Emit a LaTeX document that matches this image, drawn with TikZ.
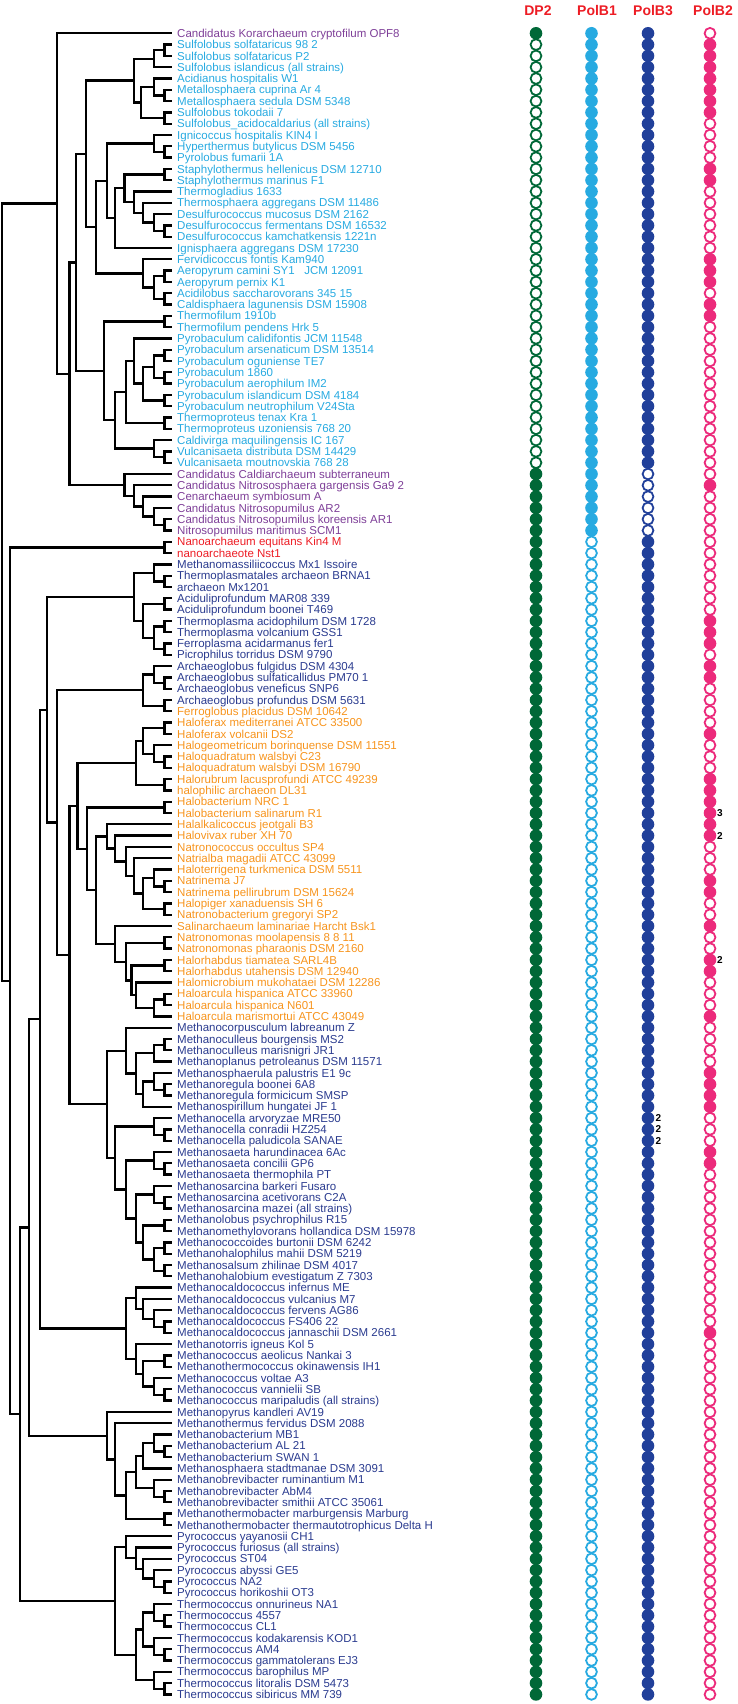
\documentclass[tikz,border=0pt]{standalone}
\usepackage{fontspec}
\setmainfont{Liberation Sans}
\usetikzlibrary{calc}

\definecolor{pu}{HTML}{7E3F98}
\definecolor{lb}{HTML}{27AAE1}
\definecolor{rd}{HTML}{ED1C24}
\definecolor{db}{HTML}{2A3B8F}
\definecolor{og}{HTML}{F7941D}
\definecolor{cDP}{HTML}{006837}
\definecolor{cBa}{HTML}{27AAE1}
\definecolor{cBc}{HTML}{21409A}
\definecolor{cBb}{HTML}{EC2A7B}

\tikzset{
  branch/.style={line width=2.3, black},
  lbl/.style={anchor=west, inner xsep=5.5, inner ysep=0, text height=8.3, text depth=0,
    font=\fontsize{11.5}{12}\selectfont},
  hdr/.style={text=rd, font=\fontsize{14}{14}\selectfont\bfseries},
  num/.style={anchor=west, inner sep=0, text height=7, text depth=0,
    font=\fontsize{10}{10}\selectfont\bfseries},
  dp1/.style={fill=cDP, radius=6.3pt}, dp0/.style={draw=cDP, fill=white, line width=1.8, radius=5.4pt},
  ba1/.style={fill=cBa, radius=6.3pt}, ba0/.style={draw=cBa, fill=white, line width=1.8, radius=5.4pt},
  bc1/.style={fill=cBc, radius=6.3pt}, bc0/.style={draw=cBc, fill=white, line width=1.8, radius=5.4pt},
  bb1/.style={fill=cBb, radius=6.3pt}, bb0/.style={draw=cBb, fill=white, line width=1.8, radius=5.4pt}
}

% nhanh cay: ten, x, con tren, con duoi
\newcommand{\clade}[4]{%
  \coordinate (#1x) at (#2,0);
  \path ($(#3)!.5!(#4)$) coordinate (#1m);
  \coordinate (#1) at (#1m -| #1x);
  \draw[branch] (#3) -| (#1) |- (#4);
}

\begin{document}
\begin{tikzpicture}[x=1pt, y=-1pt]

            \useasboundingbox (0,0) rectangle (737,1704);

            % Ghi chú tên loài và các vòng tròn
            \foreach \cl/\tx/\fa/\fb/\fc/\fd [count=\i] in {
              pu/Candidatus Korarchaeum cryptofilum OPF8/1/1/1/0,
              lb/Sulfolobus solfataricus 98 2/0/1/1/1,
              lb/Sulfolobus solfataricus P2/0/1/1/1,
              lb/Sulfolobus islandicus (all strains)/0/1/1/1,
              lb/Acidianus hospitalis W1/0/1/1/1,
              lb/Metallosphaera cuprina Ar 4/0/1/1/1,
              lb/Metallosphaera sedula DSM 5348/0/1/1/1,
              lb/Sulfolobus tokodaii 7/0/1/1/1,
              lb/Sulfolobus\_acidocaldarius (all strains)/0/1/1/0,
              lb/Ignicoccus hospitalis KIN4 I/0/1/1/0,
              lb/Hyperthermus butylicus DSM 5456/0/1/1/0,
              lb/Pyrolobus fumarii 1A/0/1/1/0,
              lb/Staphylothermus hellenicus DSM 12710/0/1/1/1,
              lb/Staphylothermus marinus F1/0/1/1/1,
              lb/Thermogladius 1633/0/1/1/0,
              lb/Thermosphaera aggregans DSM 11486/0/1/1/0,
              lb/Desulfurococcus mucosus DSM 2162/0/1/1/0,
              lb/Desulfurococcus fermentans DSM 16532/0/1/1/0,
              lb/Desulfurococcus kamchatkensis 1221n/0/1/1/0,
              lb/Ignisphaera aggregans DSM 17230/0/1/1/0,
              lb/Fervidicoccus fontis Kam940/0/1/1/1,
              lb/Aeropyrum camini SY1~~~JCM 12091/0/1/1/1,
              lb/Aeropyrum pernix K1/0/1/1/1,
              lb/Acidilobus saccharovorans 345 15/0/1/1/0,
              lb/Caldisphaera lagunensis DSM 15908/0/1/1/1,
              lb/Thermofilum 1910b/0/1/1/1,
              lb/Thermofilum pendens Hrk 5/0/1/1/0,
              lb/Pyrobaculum calidifontis JCM 11548/0/1/1/0,
              lb/Pyrobaculum arsenaticum DSM 13514/0/1/1/0,
              lb/Pyrobaculum oguniense TE7/0/1/1/0,
              lb/Pyrobaculum 1860/0/1/1/0,
              lb/Pyrobaculum aerophilum IM2/0/1/1/0,
              lb/Pyrobaculum islandicum DSM 4184/0/1/1/0,
              lb/Pyrobaculum neutrophilum V24Sta/0/1/1/0,
              lb/Thermoproteus tenax Kra 1/0/1/1/0,
              lb/Thermoproteus uzoniensis 768 20/0/1/1/0,
              lb/Caldivirga maquilingensis IC 167/0/1/1/0,
              lb/Vulcanisaeta distributa DSM 14429/0/1/1/0,
              lb/Vulcanisaeta moutnovskia 768 28/0/1/1/0,
              pu/Candidatus Caldiarchaeum subterraneum/1/1/0/0,
              pu/Candidatus Nitrososphaera gargensis Ga9 2/1/1/0/1,
              pu/Cenarchaeum symbiosum A/1/1/0/0,
              pu/Candidatus Nitrosopumilus AR2/1/1/0/0,
              pu/Candidatus Nitrosopumilus koreensis AR1/1/1/0/0,
              pu/Nitrosopumilus maritimus SCM1/1/1/0/0,
              rd/Nanoarchaeum equitans Kin4 M/1/0/1/0,
              rd/nanoarchaeote Nst1/1/0/1/0,
              db/Methanomassiliicoccus Mx1 Issoire/1/0/1/0,
              db/Thermoplasmatales archaeon BRNA1/1/0/1/0,
              db/archaeon Mx1201/1/0/1/0,
              db/Aciduliprofundum MAR08 339/1/0/1/0,
              db/Aciduliprofundum boonei T469/1/0/1/0,
              db/Thermoplasma acidophilum DSM 1728/1/0/1/1,
              db/Thermoplasma volcanium GSS1/1/0/1/1,
              db/Ferroplasma acidarmanus fer1/1/0/1/1,
              db/Picrophilus torridus DSM 9790/1/0/1/0,
              db/Archaeoglobus fulgidus DSM 4304/1/0/1/1,
              db/Archaeoglobus sulfaticallidus PM70 1/1/0/1/1,
              db/Archaeoglobus veneficus SNP6/1/0/1/0,
              db/Archaeoglobus profundus DSM 5631/1/0/1/0,
              og/Ferroglobus placidus DSM 10642/1/0/1/0,
              og/Haloferax mediterranei ATCC 33500/1/0/1/0,
              og/Haloferax volcanii DS2/1/0/1/1,
              og/Halogeometricum borinquense DSM 11551/1/0/1/0,
              og/Haloquadratum walsbyi C23/1/0/1/0,
              og/Haloquadratum walsbyi DSM 16790/1/0/1/0,
              og/Halorubrum lacusprofundi ATCC 49239/1/0/1/1,
              og/halophilic archaeon DL31/1/0/1/1,
              og/Halobacterium NRC 1/1/0/1/1,
              og/Halobacterium salinarum R1/1/0/1/1,
              og/Halalkalicoccus jeotgali B3/1/0/1/1,
              og/Halovivax ruber XH 70/1/0/1/1,
              og/Natronococcus occultus SP4/1/0/1/0,
              og/Natrialba magadii ATCC 43099/1/0/1/0,
              og/Haloterrigena turkmenica DSM 5511/1/0/1/0,
              og/Natrinema J7/1/0/1/1,
              og/Natrinema pellirubrum DSM 15624/1/0/1/1,
              og/Halopiger xanaduensis SH 6/1/0/1/0,
              og/Natronobacterium gregoryi SP2/1/0/1/0,
              og/Salinarchaeum laminariae Harcht Bsk1/1/0/1/1,
              og/Natronomonas moolapensis 8 8 11/1/0/1/0,
              og/Natronomonas pharaonis DSM 2160/1/0/1/0,
              og/Halorhabdus tiamatea SARL4B/1/0/1/1,
              og/Halorhabdus utahensis DSM 12940/1/0/1/1,
              og/Halomicrobium mukohataei DSM 12286/1/0/1/0,
              og/Haloarcula hispanica ATCC 33960/1/0/1/0,
              og/Haloarcula hispanica N601/1/0/1/0,
              og/Haloarcula marismortui ATCC 43049/1/0/1/1,
              db/Methanocorpusculum labreanum Z/1/0/1/0,
              db/Methanoculleus bourgensis MS2/1/0/1/0,
              db/Methanoculleus marisnigri JR1/1/0/1/0,
              db/Methanoplanus petroleanus DSM 11571/1/0/1/0,
              db/Methanosphaerula palustris E1 9c/1/0/1/1,
              db/Methanoregula boonei 6A8/1/0/1/1,
              db/Methanoregula formicicum SMSP/1/0/1/1,
              db/Methanospirillum hungatei JF 1/1/0/1/1,
              db/Methanocella arvoryzae MRE50/1/0/1/0,
              db/Methanocella conradii HZ254/1/0/1/0,
              db/Methanocella paludicola SANAE/1/0/1/0,
              db/Methanosaeta harundinacea 6Ac/1/0/1/1,
              db/Methanosaeta concilii GP6/1/0/1/1,
              db/Methanosaeta thermophila PT/1/0/1/0,
              db/Methanosarcina barkeri Fusaro/1/0/1/0,
              db/Methanosarcina acetivorans C2A/1/0/1/0,
              db/Methanosarcina mazei (all strains)/1/0/1/0,
              db/Methanolobus psychrophilus R15/1/0/1/0,
              db/Methanomethylovorans hollandica DSM 15978/1/0/1/0,
              db/Methanococcoides burtonii DSM 6242/1/0/1/0,
              db/Methanohalophilus mahii DSM 5219/1/0/1/0,
              db/Methanosalsum zhilinae DSM 4017/1/0/1/0,
              db/Methanohalobium evestigatum Z 7303/1/0/1/0,
              db/Methanocaldococcus infernus ME/1/0/1/0,
              db/Methanocaldococcus vulcanius M7/1/0/1/0,
              db/Methanocaldococcus fervens AG86/1/0/1/0,
              db/Methanocaldococcus FS406 22/1/0/1/0,
              db/Methanocaldococcus jannaschii DSM 2661/1/0/1/1,
              db/Methanotorris igneus Kol 5/1/0/1/0,
              db/Methanococcus aeolicus Nankai 3/1/0/1/0,
              db/Methanothermococcus okinawensis IH1/1/0/1/0,
              db/Methanococcus voltae A3/1/0/1/0,
              db/Methanococcus vannielii SB/1/0/1/0,
              db/Methanococcus maripaludis (all strains)/1/0/1/0,
              db/Methanopyrus kandleri AV19/1/0/1/0,
              db/Methanothermus fervidus DSM 2088/1/0/1/0,
              db/Methanobacterium MB1/1/0/1/0,
              db/Methanobacterium AL 21/1/0/1/0,
              db/Methanobacterium SWAN 1/1/0/1/0,
              db/Methanosphaera stadtmanae DSM 3091/1/0/1/0,
              db/Methanobrevibacter ruminantium M1/1/0/1/0,
              db/Methanobrevibacter AbM4/1/0/1/0,
              db/Methanobrevibacter smithii ATCC 35061/1/0/1/0,
              db/Methanothermobacter marburgensis Marburg/1/0/1/0,
              db/Methanothermobacter thermautotrophicus Delta H/1/0/1/0,
              db/Pyrococcus yayanosii CH1/1/0/1/0,
              db/Pyrococcus furiosus (all strains)/1/0/1/0,
              db/Pyrococcus ST04/1/0/1/0,
              db/Pyrococcus abyssi GE5/1/0/1/0,
              db/Pyrococcus NA2/1/0/1/0,
              db/Pyrococcus horikoshii OT3/1/0/1/0,
              db/Thermococcus onnurineus NA1/1/0/1/0,
              db/Thermococcus 4557/1/0/1/0,
              db/Thermococcus CL1/1/0/1/0,
              db/Thermococcus kodakarensis KOD1/1/0/1/0,
              db/Thermococcus AM4/1/0/1/0,
              db/Thermococcus gammatolerans EJ3/1/0/1/0,
              db/Thermococcus barophilus MP/1/0/1/0,
              db/Thermococcus litoralis DSM 5473/1/0/1/0,
              db/Thermococcus sibiricus MM 739/1/0/1/0}{
              \pgfmathsetmacro\yy{22+11.3*\i}
              \node[lbl, text=\cl] (L\i) at (171.5,\yy) {\tx};
              \path[dp\fa] (536,\yy) circle;
              \path[ba\fb] (591.5,\yy) circle;
              \path[bc\fc] (648,\yy) circle;
              \path[bb\fd] (710,\yy) circle;
            }

            % Tiêu đề các cột
            \node[hdr] (hDP) at (538,10.5) {DP2};
            \node[hdr] (hBa) at (597,10.5) {PolB1};
            \node[hdr] (hBc) at (653,10.5) {PolB3};
            \node[hdr] (hBb) at (713,10.5) {PolB2};

            % Số bản sao
            \node[num] (k70) at (717,{22+11.3*70}) {3};
            \node[num] (k72) at (717,{22+11.3*72}) {2};
            \node[num] (k83) at (717,{22+11.3*83}) {2};
            \node[num] (k97) at (655.5,{22+11.3*97}) {2};
            \node[num] (k98) at (655.5,{22+11.3*98}) {2};
            \node[num] (k99) at (655.5,{22+11.3*99}) {2};

            % Vẽ cây: Crenarchaeota
            \clade{s23}{164.5}{L2}{L3}
            \clade{s24}{154.1}{s23}{L4}
            \clade{s67}{164.5}{L6}{L7}
            \clade{s57}{154.1}{L5}{s67}
            \clade{s89}{164.5}{L8}{L9}
            \clade{s59}{141}{s57}{s89}
            \clade{sulf}{133.9}{s24}{s59}
            \clade{d1112}{164.5}{L11}{L12}
            \clade{d1012}{154.1}{L10}{d1112}
            \clade{d1314}{164.5}{L13}{L14}
            \clade{d1819}{164.5}{L18}{L19}
            \clade{d1719}{154.1}{L17}{d1819}
            \clade{d1619}{143.3}{L16}{d1719}
            \clade{d1519}{133.9}{L15}{d1619}
            \clade{d1319}{124.5}{d1314}{d1519}
            \clade{d1320}{115.1}{d1319}{L20}
            \clade{d1020}{107.1}{d1012}{d1320}
            \clade{d2223}{164.5}{L22}{L23}
            \clade{d2425}{164.5}{L24}{L25}
            \clade{d2225}{154.1}{d2223}{d2425}
            \clade{d2125}{143.3}{L21}{d2225}
            \clade{desulf}{96.3}{d1020}{d2125}
            \clade{sulfdes}{86}{sulf}{desulf}
            \clade{t2627}{164.5}{L26}{L27}
            \clade{t2930}{164.5}{L29}{L30}
            \clade{t3132}{164.5}{L31}{L32}
            \clade{t2932}{154.1}{t2930}{t3132}
            \clade{t3334}{164.5}{L33}{L34}
            \clade{t2934}{143.3}{t2932}{t3334}
            \clade{t2834}{133.9}{L28}{t2934}
            \clade{t3536}{164.5}{L35}{L36}
            \clade{t2836}{126}{t2834}{t3536}
            \clade{t3839}{164.5}{L38}{L39}
            \clade{t3739}{154.1}{L37}{t3839}
            \clade{t2839}{115.1}{t2836}{t3739}
            \clade{tprot}{104.3}{t2627}{t2839}
            \clade{cren}{76.1}{sulfdes}{tprot}

            % Thaumarchaeota
            \clade{a4445}{164.5}{L44}{L45}
            \clade{a4345}{154.1}{L43}{a4445}
            \clade{a4245}{143.3}{L42}{a4345}
            \clade{a4145}{133.9}{L41}{a4245}
            \clade{thaum}{124.5}{L40}{a4145}
            \clade{tack}{69.5}{cren}{thaum}
            \clade{top}{57.3}{L1}{tack}

            % Nanoarchaeota
            \clade{nano}{164.5}{L46}{L47}

            % Euryarchaeota
            \clade{p4950}{164.5}{L49}{L50}
            \clade{p4850}{154.1}{L48}{p4950}
            \clade{p5152}{164.5}{L51}{L52}
            \clade{p5354}{164.5}{L53}{L54}
            \clade{p5556}{164.5}{L55}{L56}
            \clade{p5356}{154.1}{p5354}{p5556}
            \clade{p5156}{143.3}{p5152}{p5356}
            \clade{plasma}{133.9}{p4850}{p5156}
            \clade{g5859}{164.5}{L58}{L59}
            \clade{g5759}{154.1}{L57}{g5859}
            \clade{g6061}{164.5}{L60}{L61}
            \clade{globi}{143.3}{g5759}{g6061}
            \clade{h6263}{164.5}{L62}{L63}
            \clade{h6566}{164.5}{L65}{L66}
            \clade{h6466}{154.1}{L64}{h6566}
            \clade{h6266}{143.3}{h6263}{h6466}
            \clade{h6768}{164.5}{L67}{L68}
            \clade{h6268}{136.3}{h6266}{h6768}
            \clade{h6970}{164.5}{L69}{L70}
            \clade{h7677}{164.5}{L76}{L77}
            \clade{h7577}{154.1}{L75}{h7677}
            \clade{h7879}{164.5}{L78}{L79}
            \clade{h7579}{143.3}{h7577}{h7879}
            \clade{h7479}{133.9}{L74}{h7579}
            \clade{h7379}{126}{L73}{h7479}
            \clade{h7279}{115.1}{L72}{h7379}
            \clade{h7179}{107.1}{L71}{h7279}
            \clade{h8182}{164.5}{L81}{L82}
            \clade{h8384}{164.5}{L83}{L84}
            \clade{h8687}{164.5}{L86}{L87}
            \clade{h8688}{154.1}{h8687}{L88}
            \clade{h8588}{136.3}{L85}{h8688}
            \clade{h8388}{131.6}{h8384}{h8588}
            \clade{h8188}{126}{h8182}{h8388}
            \clade{h8088}{115.1}{L80}{h8188}
            \clade{h7188}{96.3}{h7179}{h8088}
            \clade{h6988}{86.9}{h6970}{h7188}
            \clade{halo}{77.5}{h6268}{h6988}
            \clade{m9091}{164.5}{L90}{L91}
            \clade{m9092}{154.1}{m9091}{L92}
            \clade{m9495}{164.5}{L94}{L95}
            \clade{m9395}{154.1}{L93}{m9495}
            \clade{m9396}{143.3}{m9395}{L96}
            \clade{m9096}{136.3}{m9092}{m9396}
            \clade{mmic}{126}{L89}{m9096}
            \clade{c9899}{164.5}{L98}{L99}
            \clade{c9799}{154.1}{L97}{c9899}
            \clade{e101102}{164.5}{L101}{L102}
            \clade{e100102}{154.1}{L100}{e101102}
            \clade{e104105}{164.5}{L104}{L105}
            \clade{e103105}{154.1}{L103}{e104105}
            \clade{e106107}{164.5}{L106}{L107}
            \clade{e108109}{164.5}{L108}{L109}
            \clade{e110111}{164.5}{L110}{L111}
            \clade{e108111}{154.1}{e108109}{e110111}
            \clade{e106111}{143.3}{e106107}{e108111}
            \clade{e103111}{136.3}{e103105}{e106111}
            \clade{sarc}{126}{e100102}{e103111}
            \clade{c97111}{115.1}{c9799}{sarc}
            \clade{mmicro}{107.1}{mmic}{c97111}
            \clade{halomm}{69.5}{halo}{mmicro}
            \clade{ghm}{57.3}{globi}{halomm}
            \clade{pghm}{47}{plasma}{ghm}
            \clade{k115116}{164.5}{L115}{L116}
            \clade{k114116}{154.1}{L114}{k115116}
            \clade{k113116}{143.3}{L113}{k114116}
            \clade{k112116}{136.3}{L112}{k113116}
            \clade{k118119}{164.5}{L118}{L119}
            \clade{k121122}{164.5}{L121}{L122}
            \clade{k120122}{154.1}{L120}{k121122}
            \clade{k118122}{143.3}{k118119}{k120122}
            \clade{k117122}{136.3}{L117}{k118122}
            \clade{cocc}{126}{k112116}{k117122}
            \clade{euryA}{40}{pghm}{cocc}
            \clade{b126127}{164.5}{L126}{L127}
            \clade{b125127}{154.1}{L125}{b126127}
            \clade{b125128}{143.3}{b125127}{L128}
            \clade{b130131}{164.5}{L130}{L131}
            \clade{b129131}{154.1}{L129}{b130131}
            \clade{b125131}{136.3}{b125128}{b129131}
            \clade{b132133}{164.5}{L132}{L133}
            \clade{b125133}{126}{b125131}{b132133}
            \clade{b124133}{115.1}{L124}{b125133}
            \clade{bact}{107.1}{L123}{b124133}
            \clade{euryB}{29.1}{euryA}{bact}
            \clade{y138139}{164.5}{L138}{L139}
            \clade{y137139}{154.1}{L137}{y138139}
            \clade{y136139}{143.3}{L136}{y137139}
            \clade{y135139}{136.3}{L135}{y136139}
            \clade{pyro}{126}{L134}{y135139}
            \clade{y141142}{164.5}{L141}{L142}
            \clade{y140142}{154.1}{L140}{y141142}
            \clade{y144145}{164.5}{L144}{L145}
            \clade{y143145}{154.1}{L143}{y144145}
            \clade{y140145}{143.3}{y140142}{y143145}
            \clade{y147148}{164.5}{L147}{L148}
            \clade{y146148}{154.1}{L146}{y147148}
            \clade{thermo}{136.3}{y140145}{y146148}
            \clade{cocci}{115.1}{pyro}{thermo}
            \clade{euryC}{19.7}{euryB}{cocci}
            \clade{dpann}{10.3}{nano}{euryC}
            \clade{root}{2.3}{top}{dpann}

            \end{tikzpicture}
\end{document}
